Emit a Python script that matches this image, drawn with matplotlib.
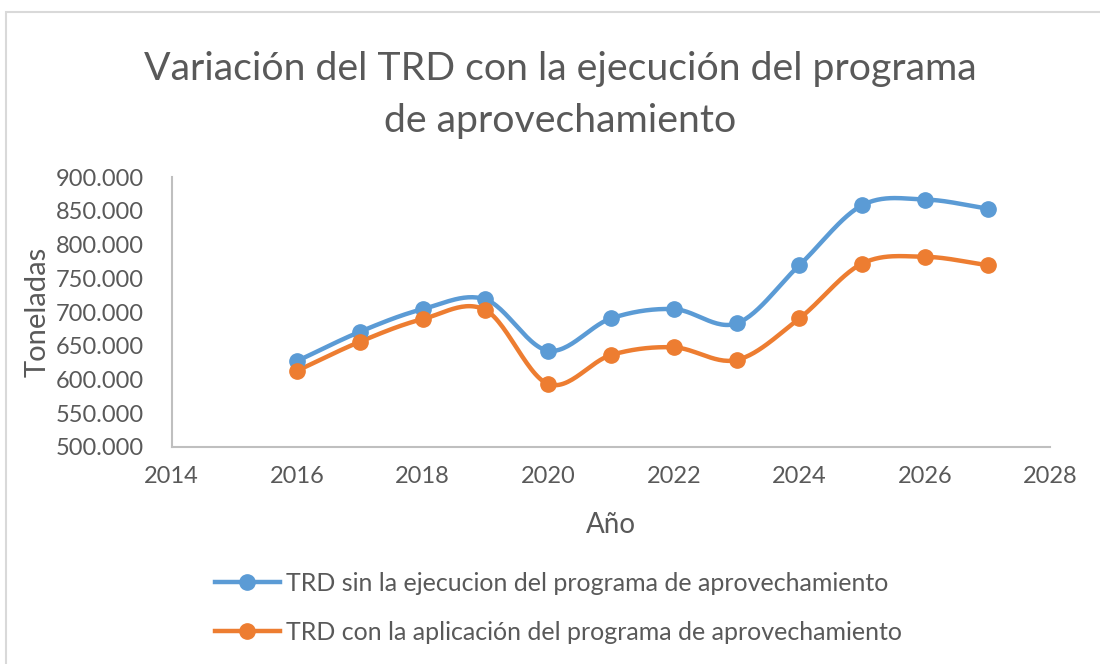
import numpy as np
import matplotlib
matplotlib.use("Agg")
import matplotlib.pyplot as plt
from matplotlib.patches import Rectangle

anios = [2016, 2017, 2018, 2019, 2020, 2021, 2022, 2023, 2024, 2025, 2026, 2027]
trd_sin = [627.4, 670.8, 704.4, 718.8, 642.7, 690.6, 704.4, 683.2, 769.6, 858.5, 867.0, 853.6]
trd_con = [613.0, 656.0, 689.6, 703.0, 593.3, 636.3, 647.7, 628.9, 690.6, 772.0, 782.0, 769.6]

etiqueta_sin = "TRD sin la ejecucion del programa de aprovechamiento"
etiqueta_con = "TRD con la aplicación del programa de aprovechamiento"
titulo = "Variación del TRD con la ejecución del programa\nde aprovechamiento"

azul = "#5B9BD5"
naranja = "#ED7D31"
gris_texto = "#595959"
gris_eje = "#BFBFBF"

plt.rcParams["font.family"] = ["Lato", "DejaVu Sans"]


def suavizar(x, y, n=30):
    # curva tipo Catmull-Rom, como las lineas suavizadas de Excel
    x = np.asarray(x, float)
    y = np.asarray(y, float)
    px = np.concatenate([[2 * x[0] - x[1]], x, [2 * x[-1] - x[-2]]])
    py = np.concatenate([[2 * y[0] - y[1]], y, [2 * y[-1] - y[-2]]])
    xs, ys = [], []
    t = np.linspace(0, 1, n)
    for i in range(1, len(px) - 2):
        for p, out in ((px, xs), (py, ys)):
            p0, p1, p2, p3 = p[i - 1], p[i], p[i + 1], p[i + 2]
            out.extend(0.5 * ((2 * p1) + (-p0 + p2) * t
                              + (2 * p0 - 5 * p1 + 4 * p2 - p3) * t ** 2
                              + (-p0 + 3 * p1 - 3 * p2 + p3) * t ** 3))
    return np.array(xs), np.array(ys)


fig = plt.figure(figsize=(11, 6.64), dpi=100)
ax = fig.add_axes([0.156, 0.327, 0.799, 0.406])

for serie, color, etiqueta in ((trd_sin, azul, etiqueta_sin), (trd_con, naranja, etiqueta_con)):
    sx, sy = suavizar(anios, serie)
    ax.plot(sx, sy, color=color, lw=3.2, solid_capstyle="round", zorder=2)
    ax.plot(anios, serie, "o", color=color, ms=11, zorder=3)
    ax.plot([], [], color=color, lw=3.2, marker="o", ms=11, label=etiqueta)

ax.set_xlim(2014, 2028)
ax.set_ylim(500, 900)
ax.set_xticks(range(2014, 2029, 2))
ax.set_yticks(range(500, 901, 50))
ax.set_yticklabels([f"{v}.000" for v in range(500, 901, 50)])

for lado in ("top", "right"):
    ax.spines[lado].set_visible(False)
for lado in ("left", "bottom"):
    ax.spines[lado].set_color(gris_eje)
    ax.spines[lado].set_linewidth(1.5)
ax.tick_params(length=0, labelsize=17, labelcolor=gris_texto)
ax.tick_params(axis="y", pad=20)
ax.tick_params(axis="x", pad=14)

ax.set_xlabel("Año", fontsize=20, color=gris_texto, labelpad=18)
ax.set_ylabel("Toneladas", fontsize=21, color=gris_texto, labelpad=4)

fig.text(0.509, 0.857, titulo, ha="center", va="center", fontsize=28.3,
         color=gris_texto, linespacing=1.55)

fig.legend(loc="upper left", bbox_to_anchor=(0.184, 0.158), frameon=False,
           fontsize=18, labelcolor=gris_texto, handlelength=2.6,
           handletextpad=0.25, labelspacing=1.05, borderpad=0)

fig.patches.append(Rectangle((0.005, -0.05), 1.2, 1.032, transform=fig.transFigure,
                             fill=False, edgecolor="#D9D9D9", lw=1.5))

fig.savefig("out.png", dpi=100)
